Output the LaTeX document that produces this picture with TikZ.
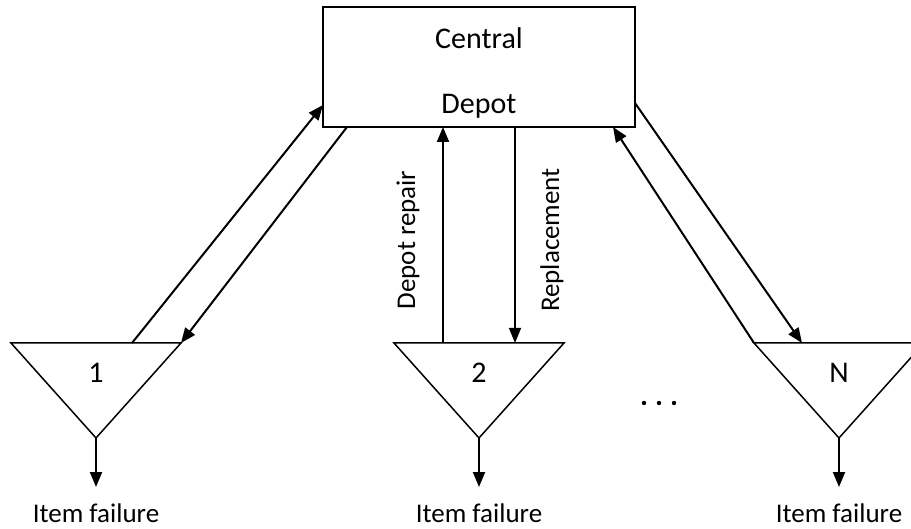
\documentclass[tikz,border=0pt]{standalone}
\usepackage{fontspec}
\setmainfont{Carlito}
\usetikzlibrary{arrows.meta}
\begin{document}
\begin{tikzpicture}[x=1pt,y=-1pt,
  lbl/.style={inner sep=0pt,font=\fontsize{27}{32}\selectfont},
  biglbl/.style={inner sep=0pt,font=\fontsize{30}{36}\selectfont},
  flow/.style={line width=2pt,-{Triangle[length=15pt,width=12pt]}},
  thinflow/.style={line width=1.2pt,-{Triangle[length=15pt,width=12pt]}},
  depotbox/.style={draw,line width=2pt,minimum width=312pt,minimum height=120pt,inner sep=0pt},
  site/.style={draw,line width=1.5pt,line join=miter}]
\useasboundingbox (0,0) rectangle (911,529);

% central depot
\node[depotbox] (depot) at (479,67) {};
\node[biglbl] (central) at (479,38) {Central};
\node[biglbl] (depotlbl) at (479,106) {Depot};

% field sites (inverted triangles)
\foreach \n/\cx in {1/96,2/479,N/839}{
  \coordinate (s\n-l) at (\cx-85,343);
  \coordinate (s\n-r) at (\cx+85,343);
  \coordinate (s\n-a) at (\cx,438);
  \coordinate (s\n-o) at (\cx,487);
  \draw[site] (s\n-l) -- (s\n-r) -- (s\n-a) -- cycle;
  \node[biglbl] (s\n-lbl) at (\cx,373) {\n};
  \draw[flow] (s\n-a) -- (s\n-o);
  \node[lbl] (s\n-fail) at (\cx,513) {Item failure};
}

% site 1 links
\coordinate (d1in) at (323,105);
\coordinate (d1out) at (347,127);
\coordinate (s1-up) at (132,343);
\draw[flow] (s1-up) -- (d1in);
\draw[flow] (d1out) -- (s1-r);

% site 2 links
\coordinate (d2in) at (443,127);
\coordinate (d2out) at (515,127);
\coordinate (s2-up) at (443,343);
\coordinate (s2-dn) at (515,343);
\draw[flow] (s2-up) -- (d2in);
\draw[thinflow] (d2out) -- (s2-dn);
\node[lbl,rotate=90] (repair) at (408,240) {Depot repair};
\node[lbl,rotate=90] (repl) at (552,240) {Replacement};

% site N links
\coordinate (dNout) at (635,103);
\coordinate (dNin) at (613,127);
\coordinate (sN-dn) at (802,343);
\draw[flow] (dNout) -- (sN-dn);
\draw[flow] (sN-l) -- (dNin);

% further sites
\foreach \dx/\k in {644/1,659/2,674/3}
  \fill (\dx,403) circle (2.2pt) coordinate (dot\k);
\end{tikzpicture}
\end{document}
